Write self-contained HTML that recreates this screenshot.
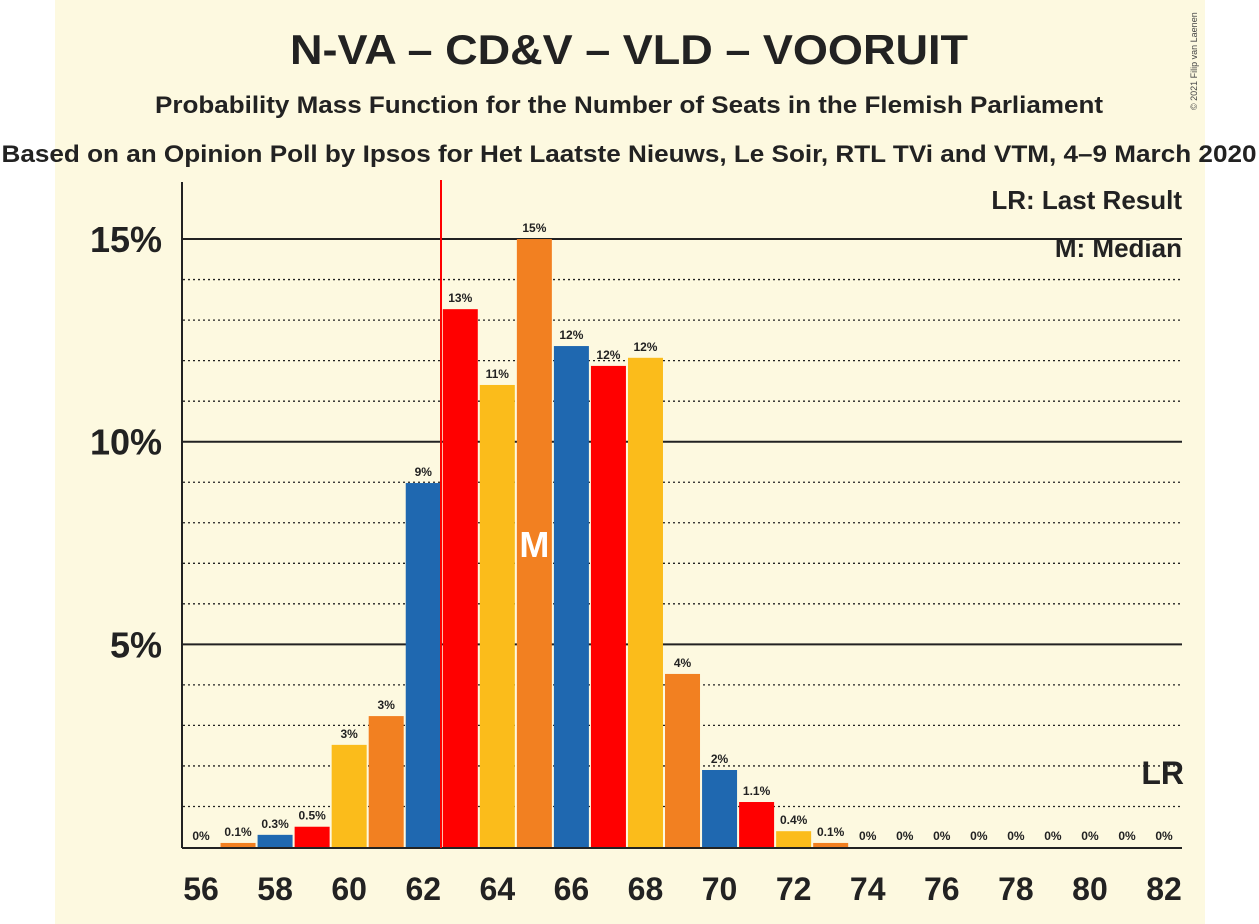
<!DOCTYPE html>
<html><head><meta charset="utf-8"><style>
body{margin:0;background:#fff;}
svg{display:block;font-family:"Liberation Sans",sans-serif;}
</style></head><body>
<svg id="c" width="1259" height="924">
<rect x="55" y="0" width="1150" height="924" fill="#FDF9E0"/>
<text x="629" y="64" text-anchor="middle" font-size="42" font-weight="bold" fill="#222" textLength="678" lengthAdjust="spacingAndGlyphs">N-VA – CD&amp;V – VLD – VOORUIT</text>
<text x="629" y="113" text-anchor="middle" font-size="24" font-weight="bold" fill="#222" textLength="948" lengthAdjust="spacingAndGlyphs">Probability Mass Function for the Number of Seats in the Flemish Parliament</text>
<text x="629" y="162" text-anchor="middle" font-size="24" font-weight="bold" fill="#222" textLength="1255" lengthAdjust="spacingAndGlyphs">Based on an Opinion Poll by Ipsos for Het Laatste Nieuws, Le Soir, RTL TVi and VTM, 4–9 March 2020</text>
<text x="1197" y="110" font-size="9" fill="#444" transform="rotate(-90 1197 110)">© 2021 Filip van Laenen</text>
<g id="grid"></g><g id="bars"></g><g id="labels"></g>
<line x1="182" y1="182" x2="182" y2="848" stroke="#222" stroke-width="2"/>
<line x1="182" y1="848" x2="1182" y2="848" stroke="#222" stroke-width="2"/>
<line x1="441" y1="180" x2="441" y2="848" stroke="#f00" stroke-width="2"/>
<text x="1182" y="209" text-anchor="end" font-size="26" font-weight="bold" fill="#222">LR: Last Result</text>
<text x="1182" y="257" text-anchor="end" font-size="26" font-weight="bold" fill="#222">M: Median</text>
</svg>
<script>
const seats=[56,57,58,59,60,61,62,63,64,65,66,67,68,69,70,71,72,73,74,75,76,77,78,79,80,81,82];
const probs=[0,0.1,0.3,0.5,2.52,3.23,8.98,13.27,11.4,15.0,12.36,11.87,12.07,4.27,1.9,1.11,0.39,0.1,0,0,0,0,0,0,0,0,0];
const valueLabels=["0%","0.1%","0.3%","0.5%","3%","3%","9%","13%","11%","15%","12%","12%","12%","4%","2%","1.1%","0.4%","0.1%","0%","0%","0%","0%","0%","0%","0%","0%","0%"];
const yTicks=[5,10,15];
const xTickSeats=[56,58,60,62,64,66,68,70,72,74,76,78,80,82];
const medianSeat=65, lastResultSeat=82;
const colors=["#FBBC1B","#F28021","#1F68B0","#FF0000"];
const NS="http://www.w3.org/2000/svg";
const X=s=>201+(s-56)*37.04, Y=p=>847-p*40.53;
function mk(t,a,parent,txt){const e=document.createElementNS(NS,t);for(const k in a)e.setAttribute(k,a[k]);if(txt!==undefined)e.textContent=txt;document.getElementById(parent).appendChild(e);return e;}
for(let p=1;p<=15;p++){
 const major=p%5===0;
 const l=mk('line',{x1:183,x2:1182,y1:Y(p),y2:Y(p),stroke:'#222','stroke-width':major?2:1.3,'stroke-dasharray':major?'none':'2 3'},'grid');
 
 
}
yTicks.forEach(t=>{const e=mk('text',{x:162,y:Y(t)+13,'text-anchor':'end','font-size':36,'font-weight':'bold',fill:'#222'},'labels',t+'%');
 
 });
xTickSeats.forEach(s=>{const e=mk('text',{x:X(s),y:900,'text-anchor':'middle','font-size':32,'font-weight':'bold',fill:'#222'},'labels',s);
 
 });
seats.forEach((s,i)=>{
 const h=probs[i]*40.53;
 if(h>0){const r=mk('rect',{x:X(s)-17.5,y:847-h,width:35,height:h,fill:colors[i%4]},'bars');
 
 }
 const t=mk('text',{x:X(s),y:Y(probs[i])-7,'text-anchor':'middle','font-size':12,'font-weight':'bold',fill:'#222'},'labels',valueLabels[i]);
 
 
 if(s===medianSeat){const m=mk('text',{x:X(s),y:Y(probs[i]/2)+14,'text-anchor':'middle','font-size':36,'font-weight':'bold',fill:'#fff'},'labels','M');
 
 }
 if(s===lastResultSeat){const m=mk('text',{x:X(s)+20,y:784,'text-anchor':'end','font-size':32,'font-weight':'bold',fill:'#222'},'labels','LR');
 
 }
});
</script>
</body></html>
